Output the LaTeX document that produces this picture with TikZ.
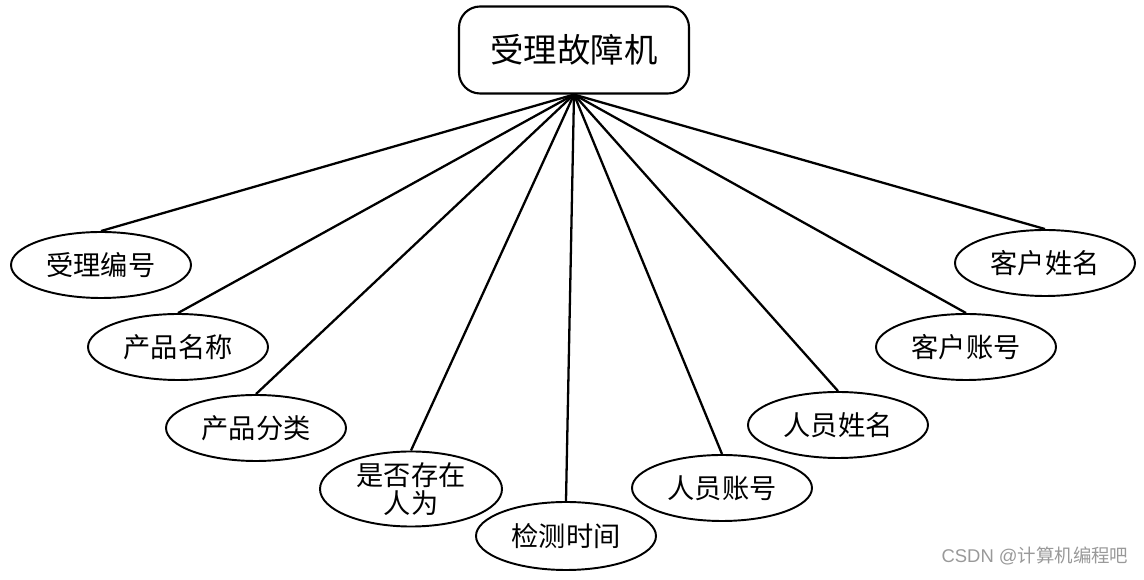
\documentclass[tikz,border=0pt]{standalone}
\usepackage{fontspec}
\setmainfont{Noto Sans CJK SC}
\setsansfont{Liberation Sans}
\usetikzlibrary{shapes.geometric}

\begin{document}
\begin{tikzpicture}
	[x=0.02cm,y=-0.02cm,thick,
		entity/.style={rectangle,rounded corners=12pt,draw,line width=1.2pt,minimum width=230*0.02cm,minimum height=87*0.02cm,font=\fontsize{19}{21}\selectfont},
		attr/.style={ellipse,draw,line width=1.1pt,minimum width=180*0.02cm,minimum height=66*0.02cm,inner sep=0pt,align=center,font=\fontsize{15.5}{16}\selectfont},
		link/.style={line width=1.3pt}]
	\useasboundingbox (0,0) rectangle (1144,580);

	\node[entity] (M) at (574,50) {受理故障机};

	\node[attr] (A1) at (101,265) {受理编号};
	\node[attr] (A2) at (178,347) {产品名称};
	\node[attr] (A3) at (256,428) {产品分类};
	\node[attr,minimum width=182*0.02cm,minimum height=68*0.02cm] (A4) at (411,489) {是否存在\\人为};
	\node[attr,minimum height=68*0.02cm] (A5) at (566,536) {检测时间};
	\node[attr] (A6) at (722,488) {人员账号};
	\node[attr] (A7) at (838,425) {人员姓名};
	\node[attr] (A8) at (966,347) {客户账号};
	\node[attr] (A9) at (1045,263) {客户姓名};

	\path[link]
	(M.south) edge (A1.north)
	edge (A2.north)
	edge (A3.north)
	edge (A4.north)
	edge (A5.north)
	edge (A6.north)
	edge (A7.north)
	edge (A8.north)
	edge (A9.north);

	\node[text=gray!80,font=\fontsize{10.5}{11}\selectfont] (W) at (1035,556) {\sffamily CSDN @\rmfamily 计算机编程吧};

\end{tikzpicture}
\end{document}
